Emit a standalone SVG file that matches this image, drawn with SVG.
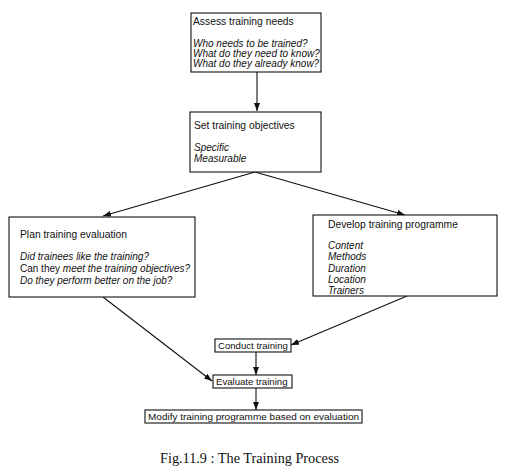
<svg xmlns="http://www.w3.org/2000/svg" width="510" height="471" viewBox="0 0 510 471">
<defs>
<marker id="ah" markerWidth="8" markerHeight="6" refX="8" refY="3" orient="auto" markerUnits="userSpaceOnUse">
<path d="M0,0 L8,3 L0,6 Z" fill="#111"/>
</marker>
<style>
.box{fill:#fff;stroke:#111;stroke-width:1.1}
.t{font-family:"Liberation Sans",Arial,sans-serif;font-size:10.3px;fill:#111}
.i{font-style:italic;font-size:10px}
.s{font-size:9.6px}
.c{stroke:#111;stroke-width:1.1;fill:none;marker-end:url(#ah)}
.cap{font-family:"Liberation Serif","Times New Roman",serif;font-size:14px;fill:#111}
</style>
</defs>
<rect width="510" height="471" fill="#fff"/>
<g id="connectors">
<line class="c" x1="257" y1="72" x2="257" y2="111"/>
<line class="c" x1="255" y1="172" x2="103" y2="216"/>
<line class="c" x1="255" y1="172" x2="405" y2="215"/>
<line class="c" x1="103" y1="297" x2="212" y2="381"/>
<line class="c" x1="407" y1="296" x2="291" y2="345"/>
<line class="c" x1="256" y1="352" x2="256" y2="375"/>
<line class="c" x1="256" y1="388" x2="256" y2="410"/>
</g>
<g id="assess">
<rect class="box" x="191" y="13" width="130" height="59"/>
<text class="t" x="193" y="25">Assess training needs</text>
<text class="t i" x="193" y="47">Who needs to be trained?</text>
<text class="t i" x="193" y="57">What do they need to know?</text>
<text class="t i" x="193" y="67">What do they already know?</text>
</g>
<g id="objectives">
<rect class="box" x="190" y="112" width="131" height="60"/>
<text class="t" x="194" y="129">Set training objectives</text>
<text class="t i" x="194" y="151">Specific</text>
<text class="t i" x="194" y="162">Measurable</text>
</g>
<g id="plan">
<rect class="box" x="9" y="217" width="186" height="80"/>
<text class="t" x="20" y="238">Plan training evaluation</text>
<text class="t i" x="20" y="260">Did trainees like the training?</text>
<text class="t" x="20" y="272"><tspan font-size="10">Can they </tspan><tspan class="i">meet the training objectives?</tspan></text>
<text class="t i" x="20" y="284">Do they perform better on the job?</text>
</g>
<g id="develop">
<rect class="box" x="313" y="215" width="184" height="81"/>
<text class="t" x="328" y="228">Develop training programme</text>
<text class="t i" x="328" y="249">Content</text>
<text class="t i" x="328" y="260">Methods</text>
<text class="t i" x="328" y="272">Duration</text>
<text class="t i" x="328" y="283">Location</text>
<text class="t i" x="328" y="294">Trainers</text>
</g>
<g id="conduct">
<rect class="box" x="215" y="339" width="76" height="13"/>
<text class="t s" x="218" y="349">Conduct training</text>
</g>
<g id="evaluate">
<rect class="box" x="213" y="375" width="79" height="13"/>
<text class="t s" x="216" y="385">Evaluate training</text>
</g>
<g id="modify">
<rect class="box" x="145" y="410" width="217" height="13"/>
<text class="t s" x="148" y="420" textLength="211" lengthAdjust="spacingAndGlyphs">Modify training programme based on evaluation</text>
</g>
<text class="cap" x="160" y="463" textLength="179" lengthAdjust="spacingAndGlyphs">Fig.11.9 : The Training Process</text>
</svg>
